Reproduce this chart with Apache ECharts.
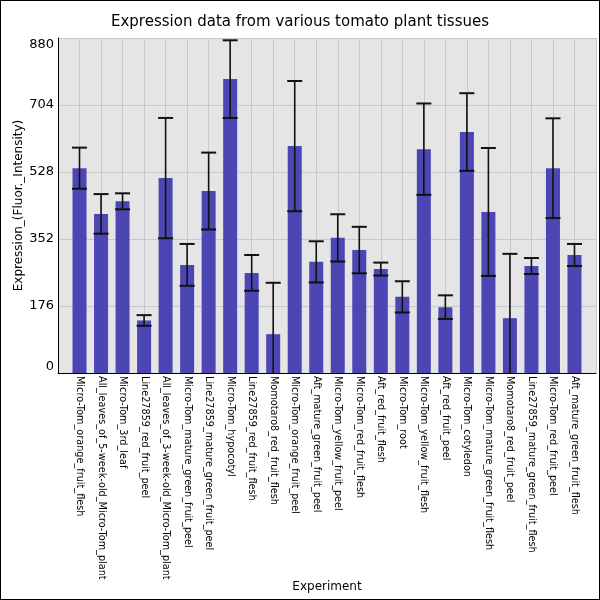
<!DOCTYPE html>
<html>
<head>
<meta charset="utf-8">
<script src="https://cdn.jsdelivr.net/npm/echarts@6/dist/echarts.min.js"></script>
<style>
  html, body { margin: 0; padding: 0; background: #fff; }
  #chart { width: 600px; height: 600px; box-sizing: border-box; border: 1px solid #000; }
</style>
</head>
<body>
<div id="chart"></div>
<script>
var tissues = [
  'Micro-Tom_orange_fruit_flesh',
  'All_leaves_of_5-week-old_Micro-Tom_plant',
  'Micro-Tom_3rd_leaf',
  'Line27859_red_fruit_peel',
  'All_leaves_of_3-week-old_Micro-Tom_plant',
  'Micro-Tom_mature_green_fruit_peel',
  'Line27859_mature_green_fruit_peel',
  'Micro-Tom_hypocotyl',
  'Line27859_red_fruit_flesh',
  'Momotaro8_red_fruit_flesh',
  'Micro-Tom_orange_fruit_peel',
  'Aft_mature_green_fruit_peel',
  'Micro-Tom_yellow_fruit_peel',
  'Micro-Tom_red_fruit_flesh',
  'Aft_red_fruit_flesh',
  'Micro-Tom_root',
  'Micro-Tom_yellow_fruit_flesh',
  'Aft_red_fruit_peel',
  'Micro-Tom_cotyledon',
  'Micro-Tom_mature_green_fruit_flesh',
  'Momotaro8_red_fruit_peel',
  'Line27859_mature_green_fruit_flesh',
  'Micro-Tom_red_fruit_peel',
  'Aft_mature_green_fruit_flesh'
];

// mean expression
var expression = [538, 418, 451, 138, 512, 284, 478, 772, 263, 102, 596, 292,
                  355, 323, 273, 200, 588, 173, 633, 423, 144, 281, 538, 310];

// standard deviation (error bars)
var stdev = [54, 52, 21, 14, 158, 55, 101, 102, 47, 135, 171, 54,
             62, 61, 17, 41, 120, 31, 102, 168, 169, 21, 131, 29];

var yTicks = { min: 0, max: 880, interval: 176 };

var chart = echarts.init(document.getElementById('chart'));

// one empty slot on each side, like the original plot's padding
var cats = [''].concat(tissues, ['']);
var barData = ['-'].concat(expression, ['-']);
var errData = expression.map(function(v, i) {
  return [i + 1, v - stdev[i], v + stdev[i]];
});

var option = {
  backgroundColor: '#fff',
  animation: false,
  title: {
    text: 'Expression data from various tomato plant tissues',
    left: 'center',
    top: 9,
    textStyle: { fontFamily: 'DejaVu Sans', fontSize: 15, fontWeight: 'normal', color: '#000' }
  },
  grid: {
    left: 57, right: 3, top: 37, bottom: 226,
    outerBoundsMode: 'none', containLabel: false,
    show: true, backgroundColor: '#e5e5e5', borderWidth: 0
  },
  xAxis: {
    type: 'category',
    data: cats,
    boundaryGap: false,
    name: 'Experiment',
    nameLocation: 'middle',
    nameGap: 208,
    nameMoveOverlap: false,
    nameTextStyle: { fontFamily: 'DejaVu Sans', fontSize: 12, color: '#000' },
    axisLine: { lineStyle: { color: '#000', width: 1 } },
    axisTick: { show: false },
    axisLabel: {
      rotate: -90,
      interval: 0,
      margin: 3,
      fontFamily: 'DejaVu Sans',
      fontSize: 9.7,
      color: '#000'
    },
    splitLine: { show: true, interval: 0, lineStyle: { color: '#c8c8c8', width: 1 } }
  },
  yAxis: {
    type: 'value',
    min: yTicks.min,
    max: yTicks.max,
    interval: yTicks.interval,
    name: 'Expression_(Fluor._Intensity)',
    nameLocation: 'middle',
    nameGap: 33,
    nameMoveOverlap: false,
    nameTextStyle: { fontFamily: 'DejaVu Sans', fontSize: 12, color: '#000' },
    axisLine: { show: true, lineStyle: { color: '#000', width: 1 } },
    axisTick: { show: false },
    axisLabel: {
      fontFamily: 'DejaVu Sans',
      fontSize: 13,
      color: '#000',
      margin: 4,
      verticalAlignMaxLabel: 'top',
      verticalAlignMinLabel: 'bottom'
    },
    splitLine: { show: true, lineStyle: { color: '#c8c8c8', width: 1 } }
  },
  series: [
    {
      type: 'bar',
      data: barData,
      barWidth: 14,
      itemStyle: { color: '#4b46b4' }
    },
    {
      type: 'custom',
      data: errData,
      clip: true,
      z: 10,
      renderItem: function(params, api) {
        var i = api.value(0);
        var lo = api.coord([i, api.value(1)]);
        var hi = api.coord([i, api.value(2)]);
        var half = 7.5;
        var st = { stroke: '#111', lineWidth: 1.6 };
        var cap = { stroke: '#111', lineWidth: 2 };
        return {
          type: 'group',
          children: [
            { type: 'line', shape: { x1: lo[0], y1: lo[1], x2: hi[0], y2: hi[1] }, style: st },
            { type: 'line', shape: { x1: hi[0] - half, y1: hi[1], x2: hi[0] + half, y2: hi[1] }, style: cap },
            { type: 'line', shape: { x1: lo[0] - half, y1: lo[1], x2: lo[0] + half, y2: lo[1] }, style: cap }
          ]
        };
      }
    }
  ]
};

chart.setOption(option);
</script>
</body>
</html>
